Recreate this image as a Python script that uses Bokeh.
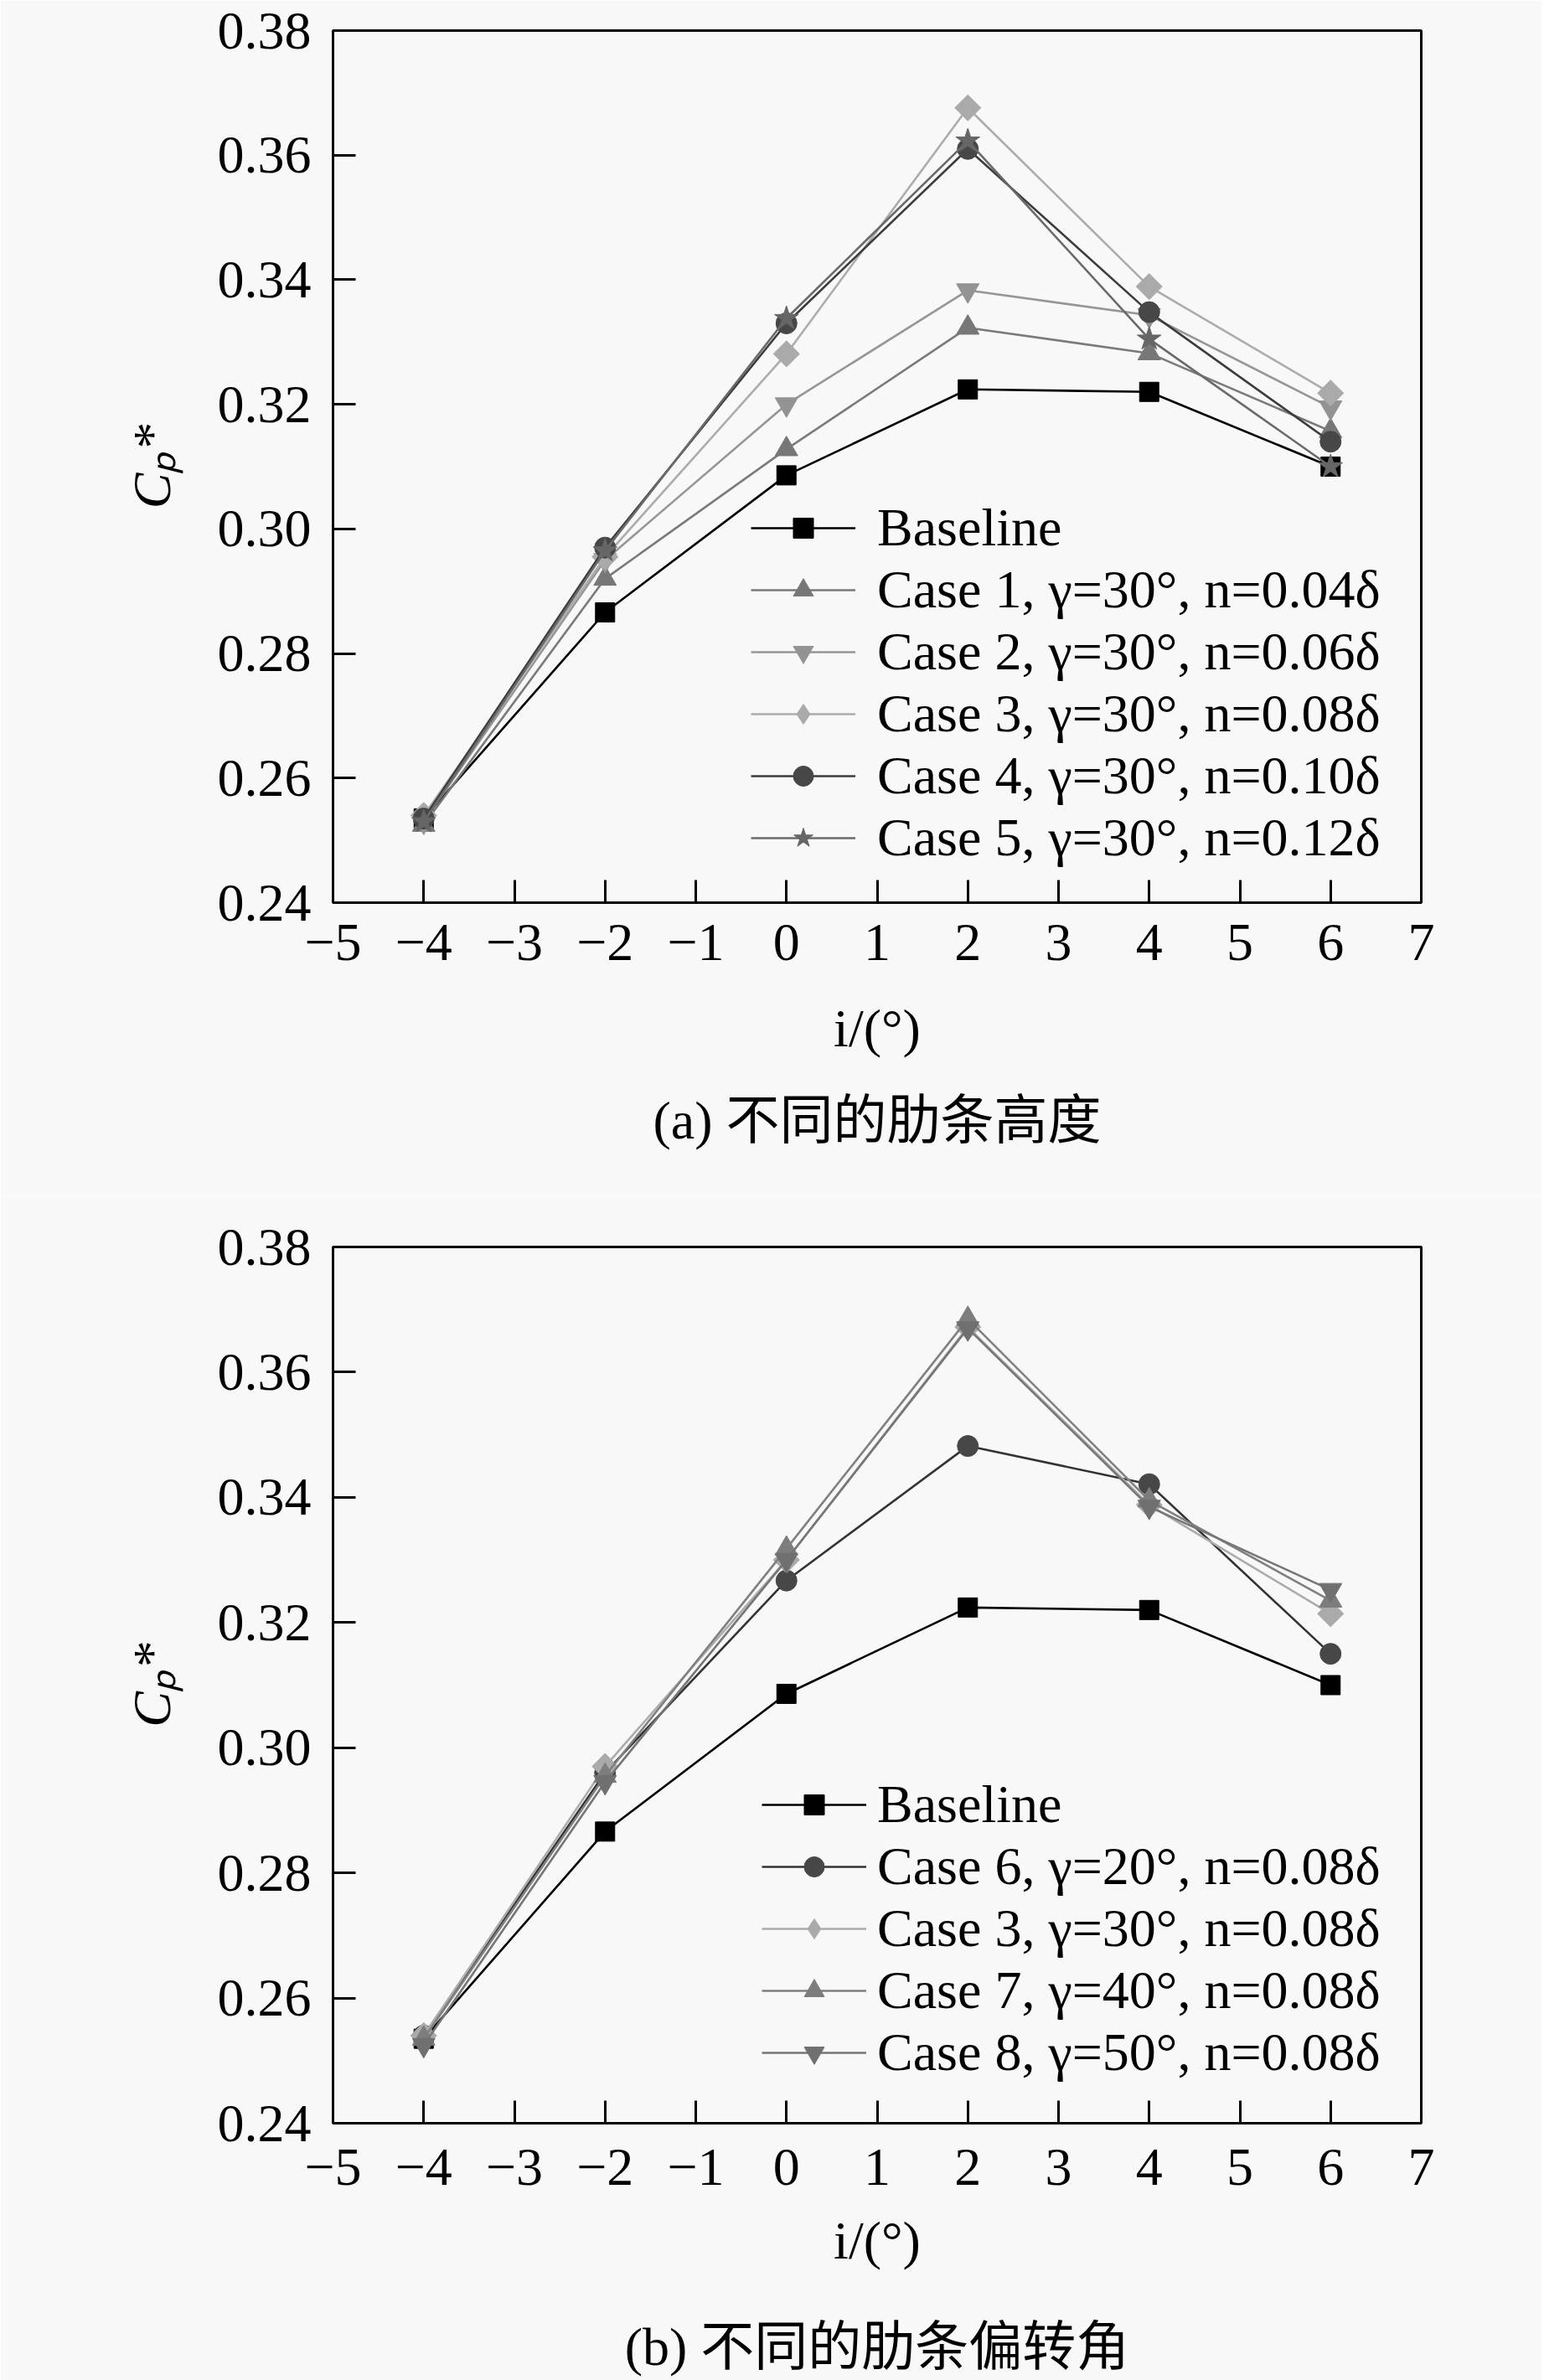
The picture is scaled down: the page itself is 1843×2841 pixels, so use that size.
import numpy as np
from bokeh.plotting import figure
from bokeh.models import FixedTicker, Legend, Title, Range1d
from bokeh.layouts import column
from bokeh.embed import file_html
from bokeh.resources import INLINE

# ---------------- data ----------------
incidence = [-4, -2, 0, 2, 4, 6]
x_ticks = [-5, -4, -3, -2, -1, 0, 1, 2, 3, 4, 5, 6, 7]
y_ticks = [0.24, 0.26, 0.28, 0.30, 0.32, 0.34, 0.36, 0.38]

baseline = [0.2535, 0.2866, 0.3086, 0.3224, 0.3220, 0.3100]

# (a) different rib heights
case1 = [0.2525, 0.2920, 0.3128, 0.3323, 0.3282, 0.3157]
case2 = [0.2530, 0.2950, 0.3200, 0.3383, 0.3343, 0.3195]
case3 = [0.2540, 0.2955, 0.3281, 0.3676, 0.3389, 0.3218]
case4 = [0.2535, 0.2970, 0.3330, 0.3610, 0.3348, 0.3140]
case5 = [0.2530, 0.2965, 0.3338, 0.3623, 0.3305, 0.3100]

# (b) different rib deflection angles
case6 = [0.2540, 0.2960, 0.3267, 0.3482, 0.3421, 0.3150]
case3b = [0.2540, 0.2970, 0.3300, 0.3672, 0.3388, 0.3214]
case7 = [0.2535, 0.2955, 0.3318, 0.3685, 0.3395, 0.3235]
case8 = [0.2525, 0.2945, 0.3300, 0.3670, 0.3385, 0.3252]

labels_a = ["Baseline",
            "Case 1, γ=30°, n=0.04δ",
            "Case 2, γ=30°, n=0.06δ",
            "Case 3, γ=30°, n=0.08δ",
            "Case 4, γ=30°, n=0.10δ",
            "Case 5, γ=30°, n=0.12δ"]
labels_b = ["Baseline",
            "Case 6, γ=20°, n=0.08δ",
            "Case 3, γ=30°, n=0.08δ",
            "Case 7, γ=40°, n=0.08δ",
            "Case 8, γ=50°, n=0.08δ"]

caption_a = "(a) 不同的肋条高度"
caption_b = "(b) 不同的肋条偏转角"
x_label = "i/(°)"
y_label = "Cₚ*"

# ---------------- style ----------------
SERIF = "Liberation Serif"
CAP_FONT = "Liberation Serif, Noto Sans CJK SC"
BG = "#f8f8f8"
FS = "64px"
LEG_FS = "64px"

style_a = [
    dict(color="#000000", line="#000000", marker="square", size=23),
    dict(color="#777777", line="#7a7a7a", marker="triangle", size=27),
    dict(color="#939393", line="#969696", marker="inverted_triangle", size=27),
    dict(color="#aaaaaa", line="#acacac", marker="diamond_rot", size=22),
    dict(color="#474747", line="#3c3c3c", marker="circle", size=25),
    dict(color="#666666", line="#6a6a6a", marker="star", size=30),
]
style_b = [
    dict(color="#000000", line="#000000", marker="square", size=23),
    dict(color="#474747", line="#333333", marker="circle", size=25),
    dict(color="#aaaaaa", line="#acacac", marker="diamond_rot", size=22),
    dict(color="#7d7d7d", line="#808080", marker="triangle", size=27),
    dict(color="#707070", line="#767676", marker="inverted_triangle", size=27),
]


def make_fig(series, labels, styles, caption, leg_x, leg_y, leg_standoff,
             border_top, frame_h, border_bottom, tick_so, label_so, title_so):
    p = figure(frame_width=1299, frame_height=frame_h,
               min_border_left=397, min_border_right=144,
               min_border_top=border_top, min_border_bottom=border_bottom,
               x_range=Range1d(-5, 7), y_range=Range1d(0.24, 0.38),
               output_backend="svg", toolbar_location=None,
               background_fill_color=BG, border_fill_color=BG)
    p.grid.visible = False
    p.outline_line_color = "black"
    p.outline_line_width = 3
    p.outline_line_alpha = 1.0

    for ax in (p.xaxis[0], p.yaxis[0]):
        ax.axis_line_width = 3
        ax.axis_line_color = "black"
        ax.major_tick_in = 27
        ax.major_tick_out = 0
        ax.major_tick_line_width = 3
        ax.major_tick_line_color = "black"
        ax.minor_tick_line_color = None
        ax.major_label_text_font = SERIF
        ax.major_label_text_font_size = FS
        ax.major_label_text_color = "black"
        ax.axis_label_text_font = SERIF
        ax.axis_label_text_font_size = FS
        ax.axis_label_text_color = "black"

    p.xaxis.ticker = FixedTicker(ticks=x_ticks)
    p.xaxis.major_label_overrides = {t: (("−" + str(-t)) if t < 0 else str(t)) for t in x_ticks}
    p.xaxis.major_label_standoff = tick_so
    p.xaxis.axis_label = x_label
    p.xaxis.axis_label_text_font_style = "normal"
    p.xaxis.axis_label_standoff = label_so

    p.yaxis.ticker = FixedTicker(ticks=y_ticks)
    p.yaxis.major_label_overrides = {t: "%.2f" % t for t in y_ticks}
    p.yaxis.major_label_standoff = 26
    p.yaxis.axis_label = y_label
    p.yaxis.axis_label_text_font_style = "italic"
    p.yaxis.axis_label_standoff = 40

    items = []
    for vals, lab, st in zip(series, labels, styles):
        r1 = p.line(incidence, vals, line_color=st["line"], line_width=2.6)
        if st["marker"] == "diamond_rot":
            # rotated square as the visible marker on the chart
            p.scatter(incidence, vals, marker="square", size=st["size"],
                      angle=np.pi / 4, fill_color=st["color"],
                      line_color=st["color"], line_width=1)
            # diamond hidden inside it, used for the legend swatch
            r2 = p.scatter(incidence, vals, marker="diamond", size=26,
                           fill_color=st["color"], line_color=st["color"],
                           line_width=1)
        else:
            r2 = p.scatter(incidence, vals, marker=st["marker"], size=st["size"],
                           fill_color=st["color"], line_color=st["color"],
                           line_width=1)
        items.append((lab, [r1, r2]))

    legend = Legend(items=items, location=(leg_x, leg_y),
                    glyph_width=125, glyph_height=60, label_height=74,
                    label_standoff=leg_standoff, spacing=0, padding=0, margin=0,
                    label_text_font=SERIF, label_text_font_size=LEG_FS,
                    label_text_color="black",
                    background_fill_alpha=0, border_line_alpha=0)
    p.add_layout(legend, "center")

    title = Title(text=caption, align="center", text_font=CAP_FONT,
                  text_font_size=FS, text_font_style="normal",
                  text_color="black", standoff=title_so, offset=0)
    p.add_layout(title, "below")
    return p


p1 = make_fig([baseline, case1, case2, case3, case4, case5], labels_a, style_a,
              caption_a, 499, 40, 26, 36, 1041, 351, 26, 43, 68)
p2 = make_fig([baseline, case6, case3b, case7, case8], labels_b, style_b,
              caption_b, 512, 47, 13, 60, 1046, 307, 31, 28, 102)

layout = column(p1, p2, spacing=0)
open("out.html", "w").write(file_html(layout, INLINE))
